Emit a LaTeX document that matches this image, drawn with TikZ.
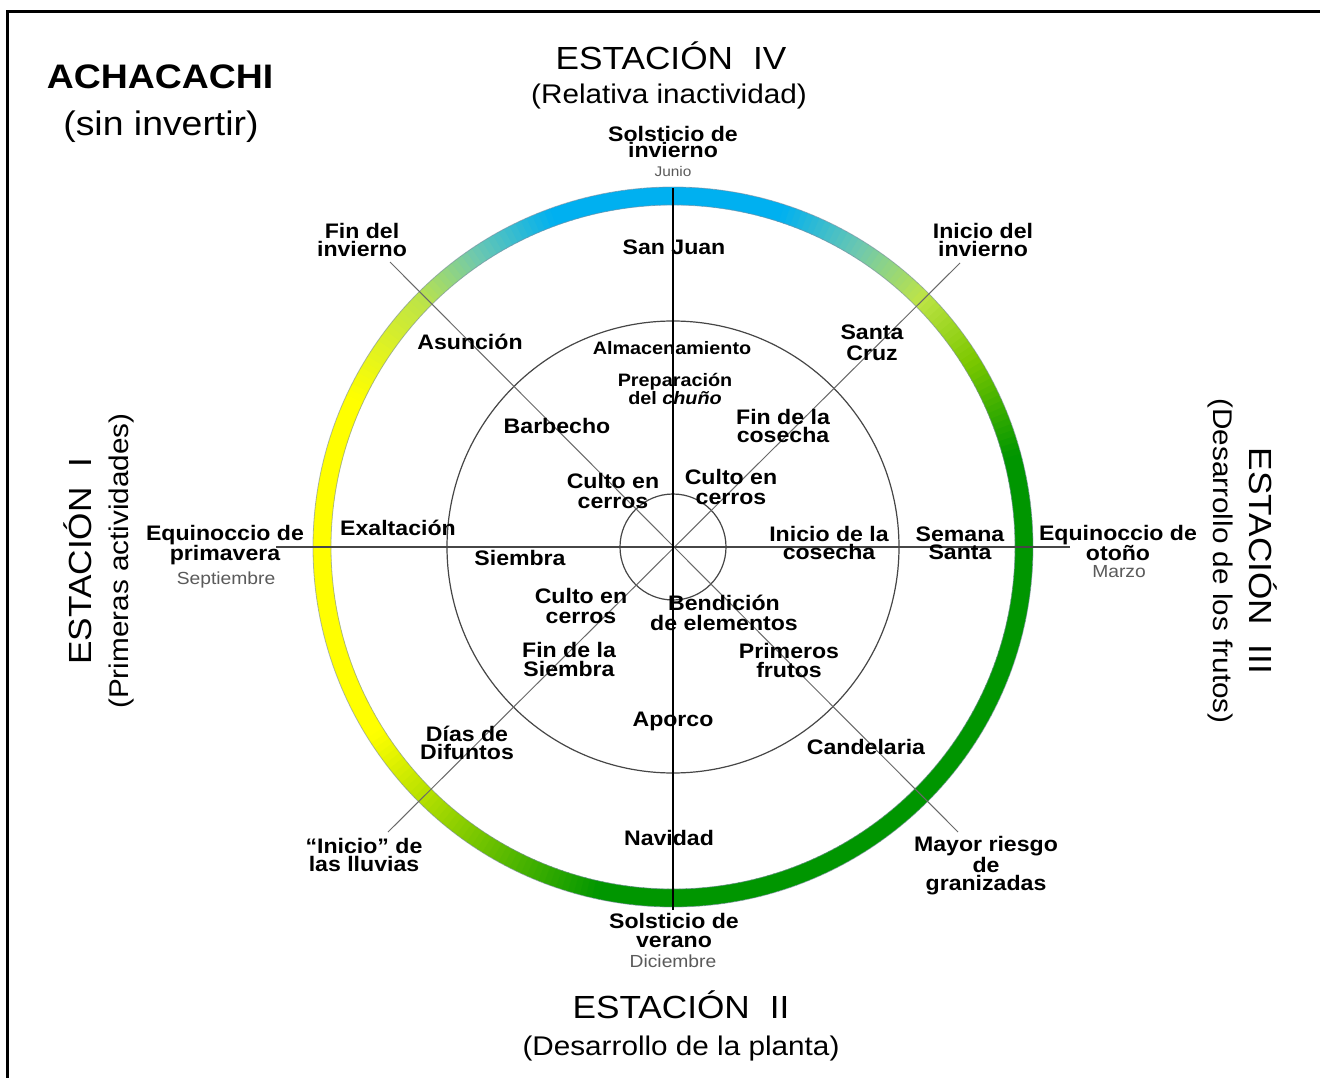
\documentclass[tikz,border=0pt]{standalone}
\usepackage{fontspec}
\setmainfont{Liberation Sans}[FakeStretch=1.1]
\definecolor{cG}{RGB}{0,150,0}
\definecolor{cLG}{RGB}{125,200,0}
\definecolor{cYG}{RGB}{190,228,70}
\definecolor{cTG}{RGB}{110,200,175}
\definecolor{cB}{RGB}{0,176,240}
\definecolor{cY}{RGB}{255,255,0}
\definecolor{mongray}{RGB}{90,90,90}
\definecolor{linegray}{RGB}{70,70,70}
\definecolor{diaggray}{RGB}{105,105,105}
\newcommand\ringseg[4]{%
  \pgfmathtruncatemacro\rsN{#2-#1}%
  \foreach \k in {1,...,\rsN}{%
    \pgfmathsetmacro\rsA{#1+\k-1}%
    \pgfmathsetmacro\rsB{#1+\k+0.3}%
    \pgfmathsetmacro\rsP{100*(\k-0.5)/\rsN}%
    \draw[ringpart, draw={#4!\rsP!#3}] (\rsA:351) arc[start angle=\rsA, end angle=\rsB, radius=351];
  }%
}
\begin{document}
\begin{tikzpicture}[x=1pt,y=1pt,
  ringpart/.style={line width=18pt},
  ringedge/.style={line width=0.8pt, draw={rgb,255:red,120;green,140;blue,160}, opacity=0.6},
  circ/.style={draw=linegray, line width=1.2pt},
  vline/.style={draw=black, line width=1.3pt},
  hline/.style={draw=linegray, line width=1.6pt},
  dline/.style={draw=diaggray, line width=1pt},
  lbl/.style={font=\bfseries\fontsize{21}{18}\selectfont, align=center, inner sep=0pt},
  mon/.style={font=\fontsize{17.5}{18}\selectfont, text=mongray, inner sep=0pt},
  ttl/.style={font=\fontsize{32}{36}\selectfont, inner sep=0pt},
  sub/.style={font=\fontsize{27}{30}\selectfont, inner sep=0pt}]
\useasboundingbox (0,0) rectangle (1320,-1078);
\clip (0,0) rectangle (1320,-1078);
\fill[white] (0,0) rectangle (1320,-1078);
% frame
\draw[line width=3pt] (7,-1100) -- (7,-12) -- (1340,-12);
\coordinate (C) at (673,-547);
% ring
\begin{scope}[shift={(C)}]
  \ringseg{-90}{15}{cG}{cG}
  \ringseg{15}{32}{cG}{cLG}
  \ringseg{32}{45}{cLG}{cYG}
  \ringseg{45}{58}{cYG}{cTG}
  \ringseg{58}{72}{cTG}{cB}
  \ringseg{72}{110}{cB}{cB}
  \ringseg{110}{124}{cB}{cTG}
  \ringseg{124}{136}{cTG}{cYG}
  \ringseg{136}{155}{cYG}{cY}
  \ringseg{155}{212}{cY}{cY}
  \ringseg{212}{235}{cY}{cLG}
  \ringseg{235}{258}{cLG}{cG}
  \ringseg{258}{270}{cG}{cG}
  \draw[ringedge] (0,0) circle[radius=360];
  \draw[ringedge] (0,0) circle[radius=342];
\end{scope}
% circles
\draw[circ] (C) circle[radius=226];
\draw[circ] (C) circle[radius=53];
% axes
\coordinate (vt) at (673,-188);
\coordinate (vb) at (673,-910);
\coordinate (hl) at (276,-547);
\coordinate (hr) at (1070,-547);
\coordinate (nw) at (390,-262);
\coordinate (se) at (958,-832);
\coordinate (ne) at (960,-263);
\coordinate (sw) at (388,-832);
\draw[dline] (nw) -- (se);
\draw[dline] (ne) -- (sw);
\draw[hline] (hl) -- (hr);
\draw[vline] (vt) -- (vb);
% titles
\node[font=\bfseries\fontsize{34}{38}\selectfont, inner sep=0pt] (ach) at (160,-77) {ACHACACHI};
\node[font=\fontsize{34}{38}\selectfont, inner sep=0pt] (sininv) at (161,-127) {(sin invertir)};
\node[ttl] (e4) at (671,-56) {ESTACIÓN\hspace{20pt}IV};
\node[sub] (e4s) at (669,-97) {(Relativa inactividad)};
\node[ttl] (e2) at (681,-1005) {ESTACIÓN\hspace{20pt}II};
\node[sub] (e2s) at (681,-1049) {(Desarrollo de la planta)};
\node[ttl, rotate=90] (e1) at (78,-561) {ESTACIÓN\hspace{20pt}I};
\node[sub, rotate=90] (e1s) at (122,-561) {(Primeras actividades)};
\node[ttl, rotate=-90] (e3) at (1263,-561) {ESTACIÓN\hspace{20pt}III};
\node[sub, rotate=-90] (e3s) at (1220,-561) {(Desarrollo de los frutos)};
% outer labels
\node[lbl, font=\bfseries\fontsize{21}{16.5}\selectfont] (solinv) at (673,-142) {Solsticio de\\invierno};
\node[mon, font=\fontsize{14}{15}\selectfont] (jun) at (673,-171) {Junio};
\node[lbl] (fininv) at (362,-240) {Fin del\\invierno};
\node[lbl] (iniinv) at (983,-240) {Inicio del\\invierno};
\node[lbl] (eqp) at (225,-545) {Equinoccio de\\primavera};
\node[mon] (sep) at (226,-580) {Septiembre};
\node[lbl] (eqo) at (1118,-543) {Equinoccio de\\otoño};
\node[mon] (mar) at (1119,-572) {Marzo};
\node[lbl] (lluv) at (364,-855) {“Inicio” de\\las lluvias};
\node[lbl, font=\bfseries\fontsize{21}{18.5}\selectfont] (gran) at (986,-866) {Mayor riesgo\\de\\granizadas};
\node[lbl, font=\bfseries\fontsize{21}{19}\selectfont] (solver) at (674,-930) {Solsticio de\\verano};
\node[mon] (dic) at (673,-961) {Diciembre};
% ring-band labels
\node[lbl] (sanjuan) at (674,-247) {San Juan};
\node[lbl] (asun) at (470,-342) {Asunción};
\node[lbl, font=\bfseries\fontsize{21}{21}\selectfont] (scruz) at (872,-343) {Santa\\Cruz};
\node[lbl] (exal) at (398,-528) {Exaltación};
\node[lbl] (ssanta) at (960,-543) {Semana\\Santa};
\node[lbl] (difu) at (467,-743) {Días de\\Difuntos};
\node[lbl] (cand) at (866,-747) {Candelaria};
\node[lbl] (navi) at (669,-838) {Navidad};
% inner labels
\node[lbl, font=\bfseries\fontsize{18}{18}\selectfont] (alma) at (672,-348) {Almacenamiento};
\node[lbl, font=\bfseries\fontsize{18}{18}\selectfont] (prep) at (675,-389) {Preparación\\del \textit{chuño}};
\node[lbl] (barb) at (557,-426) {Barbecho};
\node[lbl] (fcos) at (783,-426) {Fin de la\\cosecha};
\node[lbl, font=\bfseries\fontsize{21}{20}\selectfont] (cul1) at (613,-491) {Culto en\\cerros};
\node[lbl, font=\bfseries\fontsize{21}{20}\selectfont] (cul2) at (731,-487) {Culto en\\cerros};
\node[lbl] (siem) at (520,-558) {Siembra};
\node[lbl] (icos) at (829,-543) {Inicio de la\\cosecha};
\node[lbl, font=\bfseries\fontsize{21}{20}\selectfont] (cul3) at (581,-606) {Culto en\\cerros};
\node[lbl, font=\bfseries\fontsize{21}{20}\selectfont] (bend) at (724,-613) {Bendición\\de elementos};
\node[lbl, font=\bfseries\fontsize{21}{19}\selectfont] (fsiem) at (569,-659) {Fin de la\\Siembra};
\node[lbl, font=\bfseries\fontsize{21}{19}\selectfont] (prim) at (789,-660) {Primeros\\frutos};
\node[lbl] (apor) at (673,-721) {Aporco};
\end{tikzpicture}
\end{document}
